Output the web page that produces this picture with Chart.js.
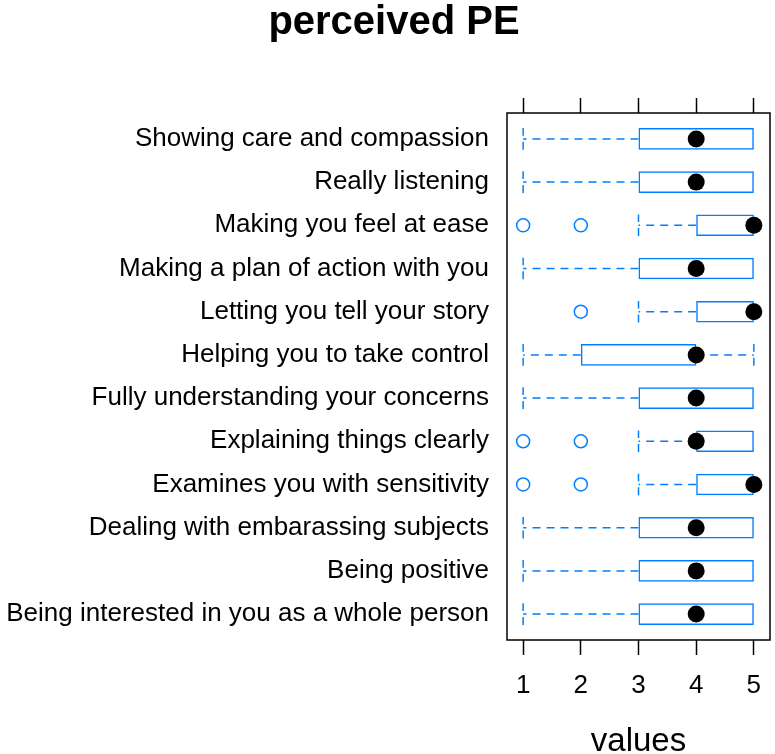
<!DOCTYPE html>
<html>
<head>
<meta charset="utf-8">
<script src="https://cdn.jsdelivr.net/npm/chart.js@4/dist/chart.umd.min.js"></script>
<style>
html,body{margin:0;padding:0;background:#fff;}
#wrap{width:775px;height:754px;}
</style>
</head>
<body>
<div id="wrap"><canvas id="c" width="775" height="754"></canvas></div>
<script>
const chartTitle = "perceived PE";
const categories = [
  "Showing care and compassion",
  "Really listening",
  "Making you feel at ease",
  "Making a plan of action with you",
  "Letting you tell your story",
  "Helping you to take control",
  "Fully understanding your concerns",
  "Explaining things clearly",
  "Examines you with sensitivity",
  "Dealing with embarassing subjects",
  "Being positive",
  "Being interested in you as a whole person"
];
const lowWhisker  = [1, 1, 3, 1, 3, 1, 1, 3, 3, 1, 1, 1];
const q1          = [3, 3, 4, 3, 4, 2, 3, 4, 4, 3, 3, 3];
const median      = [4, 4, 5, 4, 5, 4, 4, 4, 5, 4, 4, 4];
const q3          = [5, 5, 5, 5, 5, 4, 5, 5, 5, 5, 5, 5];
const highWhisker = [5, 5, 5, 5, 5, 5, 5, 5, 5, 5, 5, 5];
const outliers    = [[], [], [1, 2], [], [2], [], [], [1, 2], [1, 2], [], [], []];
const xTicks = [1, 2, 3, 4, 5];

const BLUE = "#0080ff";
const FONT = "'Liberation Sans', Arial, sans-serif";

const boxData = categories.map((c, i) => ({ y: i + 1, x: [q1[i], q3[i]] }));
const medData = categories.map((c, i) => ({ y: i + 1, x: median[i] }));
const outData = [];
outliers.forEach((arr, i) => arr.forEach(v => outData.push({ y: i + 1, x: v })));

const whiskerPlugin = {
  id: 'whiskers',
  beforeDatasetsDraw(chart) {
    const { ctx, scales: { x, y } } = chart;
    ctx.save();
    ctx.strokeStyle = BLUE;
    ctx.lineWidth = 1.5;
    ctx.setLineDash([8, 6]);
    categories.forEach((c, i) => {
      const yc = y.getPixelForValue(i + 1);
      const h = Math.abs(y.getPixelForValue(i + 1.25) - yc);
      [[q1[i], lowWhisker[i]], [q3[i], highWhisker[i]]].forEach(([from, to]) => {
        if (from === to) return;
        const xf = x.getPixelForValue(from), xt = x.getPixelForValue(to);
        ctx.beginPath(); ctx.moveTo(xf, yc); ctx.lineTo(xt, yc); ctx.stroke();
        ctx.beginPath(); ctx.moveTo(xt, yc + h); ctx.lineTo(xt, yc - h); ctx.stroke();
      });
    });
    ctx.restore();
  },
  afterDraw(chart) {
    const { ctx, chartArea: a } = chart;
    ctx.save();
    ctx.strokeStyle = '#000';
    ctx.lineWidth = 1.5;
    ctx.strokeRect(a.left, a.top, a.right - a.left, a.bottom - a.top);
    // main title (lattice centres it slightly right of the canvas centre)
    ctx.fillStyle = '#000';
    ctx.font = "bold 40px " + FONT;
    ctx.textAlign = 'center';
    ctx.textBaseline = 'middle';
    ctx.fillText(chartTitle, 394, 23);
    ctx.restore();
  }
};

const gridX = { display: true, offset: false, drawOnChartArea: false, drawTicks: true, tickLength: 15, tickColor: '#000', tickWidth: 1.5 };

new Chart(document.getElementById('c'), {
  type: 'bar',
  data: {
    datasets: [
      { type: 'scatter', data: medData, pointStyle: 'circle', pointRadius: 8.5, pointBackgroundColor: '#000', pointBorderColor: '#000', pointBorderWidth: 0, order: 0, clip: false },
      { type: 'scatter', data: outData, pointStyle: 'circle', pointRadius: 6.5, pointBackgroundColor: '#fff', pointBorderColor: BLUE, pointBorderWidth: 1.5, order: 1, clip: false },
      { type: 'bar', data: boxData, backgroundColor: 'rgba(255,255,255,0)', borderColor: BLUE, borderWidth: 1.5, borderSkipped: false, barPercentage: 0.5, categoryPercentage: 1, order: 2 }
    ]
  },
  plugins: [whiskerPlugin],
  options: {
    indexAxis: 'y',
    responsive: false,
    animation: false,
    layout: { autoPadding: false, padding: { left: 0, right: 5, top: 0, bottom: 0 } },
    plugins: { legend: { display: false }, tooltip: { enabled: false }, title: { display: false } },
    scales: {
      x2: {
        type: 'linear', position: 'top', offset: false, min: 0.72, max: 5.28,
        afterBuildTicks: s => { s.ticks = xTicks.map(v => ({ value: v })); },
        afterFit: s => { s.height = 113; s.paddingLeft = 0; s.paddingRight = 0; },
        ticks: { display: false }, grid: gridX, border: { display: false }
      },
      x: {
        type: 'linear', position: 'bottom', offset: false, beginAtZero: false, min: 0.72, max: 5.28,
        afterBuildTicks: s => { s.ticks = xTicks.map(v => ({ value: v })); },
        afterFit: s => { s.height = 114; s.paddingLeft = 0; s.paddingRight = 0; },
        ticks: { color: '#000', font: { family: FONT, size: 26 }, padding: 15, maxRotation: 0 },
        grid: gridX, border: { display: false },
        title: { display: true, text: 'values', color: '#000', font: { family: FONT, size: 33, lineHeight: 0.75 }, padding: { top: 0, bottom: 0 } }
      },
      y: {
        type: 'linear', position: 'left', offset: false, reverse: true, min: 0.4, max: 12.6,
        afterBuildTicks: s => { s.ticks = categories.map((c, i) => ({ value: i + 1 })); },
        afterFit: s => { s.width = 507; },
        ticks: { autoSkip: false, color: '#000', font: { family: FONT, size: 26 }, padding: 18, callback: v => categories[Math.round(v) - 1] || '' },
        grid: { display: false, offset: false, drawTicks: false }, border: { display: false }
      }
    }
  }
});
</script>
</body>
</html>
